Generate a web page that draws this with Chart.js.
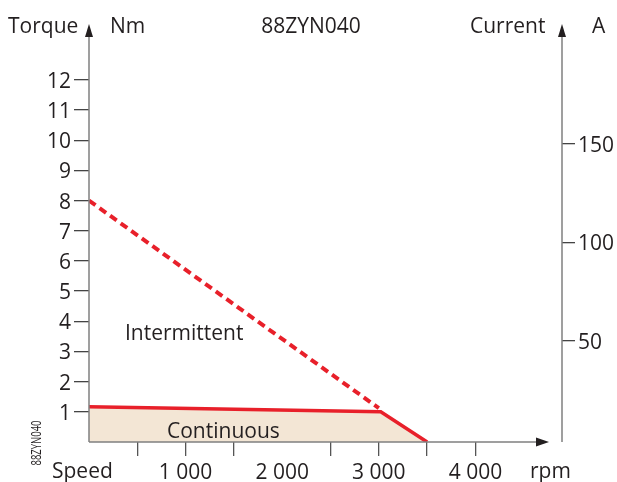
<!DOCTYPE html>
<html>
<head>
<meta charset="utf-8">
<script src="https://cdn.jsdelivr.net/npm/chart.js@4"></script>
<style>
  html, body { margin: 0; padding: 0; background: #fff; }
  #wrap { width: 617px; height: 482px; }
</style>
</head>
<body>
<div id="wrap"><canvas id="c"></canvas></div>
<script>
// values
const contSpeed = [0, 3020, 3500];
const contTorque = [1.17, 1.0, 0];
const interSpeed = [0, 3000];
const interTorque = [8, 1.12];
const torqueTicks = [1, 2, 3, 4, 5, 6, 7, 8, 9, 10, 11, 12];
const currentTicks = [50, 100, 150];
const speedTicks = [500, 1000, 1500, 2000, 2500, 3000, 3500, 4000];
const speedLabels = { 1000: "1 000", 2000: "2 000", 3000: "3 000", 4000: "4 000" };

const FONT = "'Open Sans', sans-serif";
const INK = "#231f20";
const AXIS = "#808080";
const RED = "#e8202a";

// axes, arrows and the loose texts
const decor = {
  id: "decor",
  afterDraw(chart) {
    const ctx = chart.ctx;
    const a = chart.chartArea;
    const L = a.left, R = a.right, B = a.bottom;
    ctx.save();
    ctx.strokeStyle = AXIS;
    ctx.lineWidth = 1.5;
    ctx.beginPath();
    ctx.moveTo(L, B); ctx.lineTo(L, 32);
    ctx.moveTo(R, B); ctx.lineTo(R, 32);
    ctx.moveTo(L, B); ctx.lineTo(540, B);
    ctx.stroke();

    ctx.fillStyle = INK;
    const up = (x) => {
      ctx.beginPath();
      ctx.moveTo(x, 24); ctx.lineTo(x - 4, 37); ctx.lineTo(x + 4, 37);
      ctx.closePath(); ctx.fill();
    };
    up(L); up(R);
    ctx.beginPath();
    ctx.moveTo(549, B); ctx.lineTo(536, B - 4.5); ctx.lineTo(536, B + 4.5);
    ctx.closePath(); ctx.fill();

    ctx.font = "21px " + FONT;
    ctx.textBaseline = "middle";
    ctx.textAlign = "left";
    ctx.fillText("Torque", 8, 27);
    ctx.fillText("Nm", 110, 27);
    ctx.fillText("Current", 470, 27);
    ctx.fillText("A", 592, 27);
    ctx.fillText("Speed", 52, 472);
    ctx.fillText("rpm", 530, 472);
    ctx.fillText("Intermittent", 125, 334);
    ctx.fillText("Continuous", 167, 432);
    ctx.textAlign = "center";
    ctx.fillText("88ZYN040", 311, 27);

    // small rotated, condensed code label
    ctx.font = "14px " + FONT;
    const w = ctx.measureText("88ZYN040").width;
    ctx.translate(37, 443);
    ctx.rotate(-Math.PI / 2);
    ctx.scale(45 / w, 1);
    ctx.fillText("88ZYN040", 0, 0);
    ctx.restore();
  }
};

new Chart(document.getElementById("c"), {
  type: "line",
  data: {
    datasets: [
      {
        label: "Continuous",
        data: contSpeed.map((s, i) => ({ x: s, y: contTorque[i] })),
        borderColor: RED,
        borderWidth: 3.5,
        backgroundColor: "#f3e6d5",
        fill: "origin",
        pointRadius: 0,
        yAxisID: "y"
      },
      {
        label: "Intermittent",
        data: interSpeed.map((s, i) => ({ x: s, y: interTorque[i] })),
        borderColor: RED,
        borderWidth: 4,
        borderDash: [8, 5],
        fill: false,
        pointRadius: 0,
        yAxisID: "y"
      }
    ]
  },
  options: {
    responsive: true,
    maintainAspectRatio: false,
    animation: false,
    layout: { padding: { top: 40, left: 0, right: 0, bottom: 0 } },
    plugins: { legend: { display: false }, tooltip: { enabled: false } },
    scales: {
      x: {
        type: "linear",
        min: 0,
        max: 4896,
        afterBuildTicks: (s) => { s.ticks = speedTicks.map((v) => ({ value: v })); },
        afterFit: (s) => { s.height = 40; },
        border: { display: false },
        grid: {
          drawOnChartArea: false,
          tickLength: 14,
          lineWidth: 1.3,
          color: (c) => (c.tick && c.tick.value === 2000 ? "rgba(0,0,0,0)" : "#555")
        },
        ticks: {
          padding: 4,
          maxRotation: 0,
          autoSkip: false,
          color: INK,
          font: { family: FONT, size: 21 },
          callback: (v) => speedLabels[v] || ""
        }
      },
      y: {
        position: "left",
        min: 0,
        max: 13.32,
        afterBuildTicks: (s) => { s.ticks = torqueTicks.map((v) => ({ value: v })); },
        afterFit: (s) => { s.width = 89; },
        border: { display: false },
        grid: { drawOnChartArea: false, tickLength: 15, lineWidth: 1.3, color: "#444" },
        ticks: { padding: 3, labelOffset: 2, color: INK, font: { family: FONT, size: 21 } }
      },
      y2: {
        position: "right",
        min: -1.3,
        max: 202.8,
        afterBuildTicks: (s) => { s.ticks = currentTicks.map((v) => ({ value: v })); },
        afterFit: (s) => { s.width = 55; },
        border: { display: false },
        grid: { drawOnChartArea: false, tickLength: 13, lineWidth: 1.3, color: "#444" },
        ticks: { padding: 3, labelOffset: 2, color: INK, font: { family: FONT, size: 21 } }
      }
    }
  },
  plugins: [decor]
});
</script>
</body>
</html>
